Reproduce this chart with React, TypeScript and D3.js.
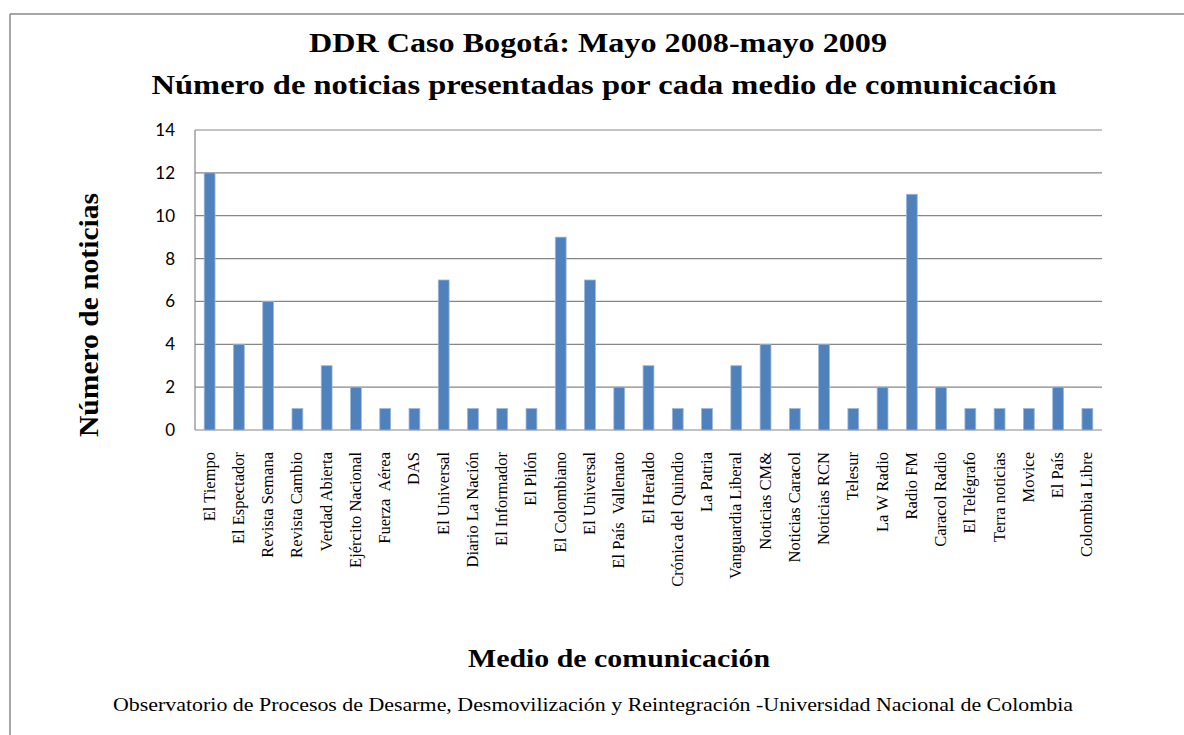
import React from "react";
import * as d3 from "d3";

// medios de comunicación y número de noticias
const medios: string[] = [
  "El Tiempo", "El Espectador", "Revista Semana", "Revista Cambio", "Verdad Abierta",
  "Ejército Nacional", "Fuerza  Aérea", "DAS", "El Universal", "Diario La Nación",
  "El Informador", "El Pilón", "El Colombiano", "El Universal", "El País  Vallenato",
  "El Heraldo", "Crónica del Quindio", "La Patria", "Vanguardia Liberal", "Noticias CM&",
  "Noticias Caracol", "Noticias RCN", "Telesur", "La W Radio", "Radio FM",
  "Caracol Radio", "El Telégrafo", "Terra noticias", "Movice", "El País", "Colombia Libre",
];
const noticias: number[] = [
  12, 4, 6, 1, 3, 2, 1, 1, 7, 1, 1, 1, 9, 7, 2, 3, 1, 1, 3, 4, 1, 4, 1, 2, 11, 2, 1, 1, 1, 2, 1,
];
const yTicks: number[] = [0, 2, 4, 6, 8, 10, 12, 14];

const W = 1184;
const H = 735;
const plot = { left: 195, right: 1102, top: 130, bottom: 430 };

const serif = "'Liberation Serif', 'Times New Roman', serif";
const sans = "Lato, 'Open Sans', sans-serif";

const App = () => {
  const x = d3
    .scaleBand<number>()
    .domain(d3.range(medios.length))
    .range([plot.left, plot.right]);
  const y = d3.scaleLinear().domain([0, 14]).range([plot.bottom, plot.top]);
  const barW = x.bandwidth() * 0.37;

  return (
    <svg
      width={W}
      height={H}
      style={{ position: "absolute", left: 0, top: 0, background: "#fff" }}
    >
      {/* marco */}
      <line x1={10} y1={14} x2={W} y2={14} stroke="#8a8a8a" strokeWidth={1.5} />
      <line x1={10} y1={14} x2={10} y2={H} stroke="#8a8a8a" strokeWidth={1.5} />

      {/* título */}
      <text x={598} y={52} textAnchor="middle" fontFamily={serif} fontWeight="bold" fontSize={28}
        textLength={578} lengthAdjust="spacingAndGlyphs">
        DDR Caso Bogotá: Mayo 2008-mayo 2009
      </text>
      <text x={604} y={94} textAnchor="middle" fontFamily={serif} fontWeight="bold" fontSize={28}
        textLength={905} lengthAdjust="spacingAndGlyphs">
        Número de noticias presentadas por cada medio de comunicación
      </text>

      {/* rejilla */}
      {yTicks.map((t) => (
        <g key={t}>
          <line x1={plot.left} x2={plot.right} y1={y(t)} y2={y(t)} stroke="#878787" strokeWidth={1.2} />
          <text x={175} y={y(t)} dy="0.35em" textAnchor="end" fontFamily={sans} fontSize={17} fill="#000">
            {t}
          </text>
        </g>
      ))}
      <line x1={plot.left} x2={plot.left} y1={plot.top} y2={plot.bottom} stroke="#878787" strokeWidth={1.2} />

      {/* barras */}
      {noticias.map((v, i) => {
        const cx = (x(i) as number) + x.bandwidth() / 2;
        return (
          <rect key={i} x={cx - barW / 2} y={y(v)} width={barW} height={y(0) - y(v)}
            fill="#4f81bd" stroke="#9db6d9" strokeWidth={0.8} />
        );
      })}

      {/* etiquetas del eje x */}
      {medios.map((m, i) => {
        const cx = (x(i) as number) + x.bandwidth() / 2;
        return (
          <text key={i} transform={`translate(${cx + 5},452) rotate(-90)`} textAnchor="end"
            fontFamily={serif} fontSize={16.5} fill="#000" style={{ whiteSpace: "pre" }}>
            {m}
          </text>
        );
      })}

      {/* títulos de ejes */}
      <text transform="translate(98,315) rotate(-90)" textAnchor="middle" fontFamily={serif}
        fontWeight="bold" fontSize={28} textLength={244} lengthAdjust="spacingAndGlyphs">
        Número de noticias
      </text>
      <text x={619} y={667} textAnchor="middle" fontFamily={serif} fontWeight="bold" fontSize={25}
        textLength={302} lengthAdjust="spacingAndGlyphs">
        Medio de comunicación
      </text>

      {/* fuente */}
      <text x={593} y={711} textAnchor="middle" fontFamily={serif} fontSize={18}
        textLength={960} lengthAdjust="spacingAndGlyphs">
        Observatorio de Procesos de Desarme, Desmovilización y Reintegración -Universidad Nacional de Colombia
      </text>
    </svg>
  );
};

export default App;
